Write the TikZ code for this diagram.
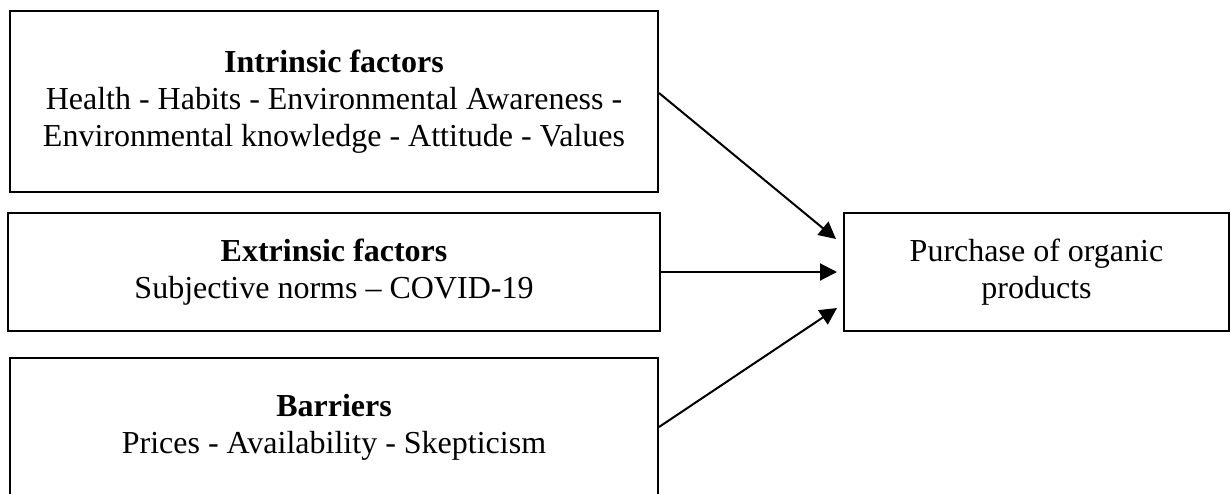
\documentclass[tikz,border=0pt]{standalone}
\usepackage{fontspec}
\setmainfont{Liberation Serif}
\usetikzlibrary{arrows.meta, positioning}

\begin{document}
\begin{tikzpicture}[x=1pt, y=-1pt,
        facbox/.style={draw=black, line width=2pt, align=center, inner sep=0pt,
                       font=\fontsize{32}{37}\selectfont},
        arr/.style={line width=2pt, -{Triangle[length=17pt, width=17pt]}}
      ]
        \useasboundingbox (0,0) rectangle (1231,493);
        % factor boxes on the left
        \node[facbox, minimum width=648pt, minimum height=181pt] (intr) at (334,101.5)
          {\textbf{Intrinsic factors}\\Health - Habits - Environmental Awareness -\\Environmental knowledge - Attitude - Values};
        \node[facbox, minimum width=652pt, minimum height=118pt] (extr) at (334,272)
          {\textbf{Extrinsic factors}\\Subjective norms -- COVID-19};
        \node[facbox, minimum width=648pt, minimum height=138pt] (barr) at (334,427)
          {\textbf{Barriers}\\Prices - Availability - Skepticism};
        % outcome
        \node[facbox, minimum width=385pt, minimum height=118pt] (buy) at (1036.5,272)
          {Purchase of organic\\products};
        \draw[arr] ([yshift=8.5pt]intr.east) -- ([xshift=-7pt, yshift=33pt]buy.west);
        \draw[arr] (extr.east) -- ([xshift=-6pt]buy.west);
        \draw[arr] (barr.east) -- ([xshift=-6pt, yshift=-36pt]buy.west);
      \end{tikzpicture}
\end{document}
